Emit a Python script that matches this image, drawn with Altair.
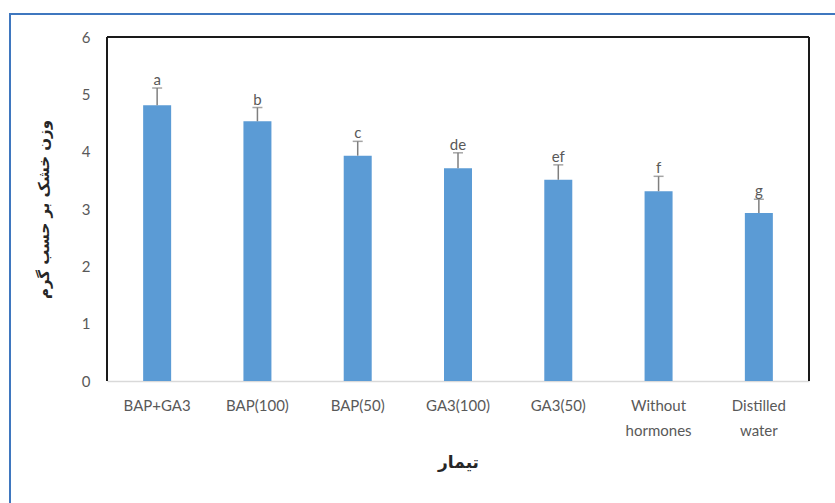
import altair as alt
import pandas as pd

treatments = ["BAP+GA3", "BAP(100)", "BAP(50)", "GA3(100)", "GA3(50)", "Without hormones", "Distilled water"]
means = [4.81, 4.53, 3.93, 3.71, 3.51, 3.31, 2.93]
errors = [0.30, 0.24, 0.25, 0.27, 0.26, 0.26, 0.24]
letters = ["a", "b", "c", "de", "ef", "f", "g"]

df = pd.DataFrame({"t": treatments, "m": means, "e": errors, "l": letters})
df["u"] = df["m"] + df["e"]

LBL = "Lato"
x = alt.X("t:N", sort=treatments, scale=alt.Scale(paddingInner=0.72, paddingOuter=0.36),
          axis=alt.Axis(title="تیمار", labelAngle=0, labelExpr="split(datum.label, ' ')",
                        labelFont=LBL, labelFontSize=15, labelColor="#595959", labelPadding=17,
                        labelLineHeight=25, ticks=False, domainColor="#d9d9d9", domainWidth=1.5,
                        titleFont="DejaVu Sans", titleFontSize=17, titleFontWeight="bold",
                        titleColor="#262626", titlePadding=16))
y_scale = alt.Scale(domain=[0, 6], nice=False)

bars = alt.Chart(df).mark_bar(color="#5B9BD5", size=28).encode(
    x=x,
    y=alt.Y("m:Q", scale=y_scale,
            axis=alt.Axis(title="وزن خشک بر حسب گرم", values=[0, 1, 2, 3, 4, 5, 6], format="d",
                          grid=False, ticks=False, domain=False, labelFont=LBL, labelFontSize=15,
                          labelColor="#595959", labelPadding=17,
                          titleFont="DejaVu Sans", titleFontSize=15, titleFontWeight="bold",
                          titleColor="#262626", titlePadding=30)),
)
err = alt.Chart(df).mark_rule(color="#7f7f7f", strokeWidth=1.5).encode(
    x=alt.X("t:N", sort=treatments), y=alt.Y("m:Q", scale=y_scale), y2="u:Q")
cap = alt.Chart(df).mark_tick(color="#7f7f7f", size=10, thickness=1.5).encode(
    x=alt.X("t:N", sort=treatments), y=alt.Y("u:Q", scale=y_scale))
txt = alt.Chart(df).mark_text(font=LBL, fontSize=15, color="#595959", baseline="bottom", dy=0).encode(
    x=alt.X("t:N", sort=treatments), y=alt.Y("u:Q", scale=y_scale), text="l:N")

frame_left = alt.Chart(df).mark_rule(color="#1a1a1a", strokeWidth=2).encode(
    x=alt.value(0), y=alt.value(0), y2=alt.value(344))
frame_top = alt.Chart(df).mark_rule(color="#1a1a1a", strokeWidth=2).encode(
    x=alt.value(0), x2=alt.value(702), y=alt.value(0))
frame_right = alt.Chart(df).mark_rule(color="#1a1a1a", strokeWidth=2).encode(
    x=alt.value(702), y=alt.value(0), y2=alt.value(344))
outer = alt.Chart(df).mark_rect(fill=None, stroke="#3f77bf", strokeWidth=2).encode(
    x=alt.value(-97), x2=alt.value(730), y=alt.value(-23), y2=alt.value(480))

chart = alt.layer(outer, bars, err, cap, txt, frame_left, frame_top, frame_right).properties(
    width=702, height=344,
    autosize=alt.AutoSizeParams(type="none"),
    padding={"left": 107, "top": 37, "right": 26, "bottom": 122},
    background="white",
).configure_view(stroke=None)

chart.save("out.html", embed_options={"renderer": "svg", "actions": False})
